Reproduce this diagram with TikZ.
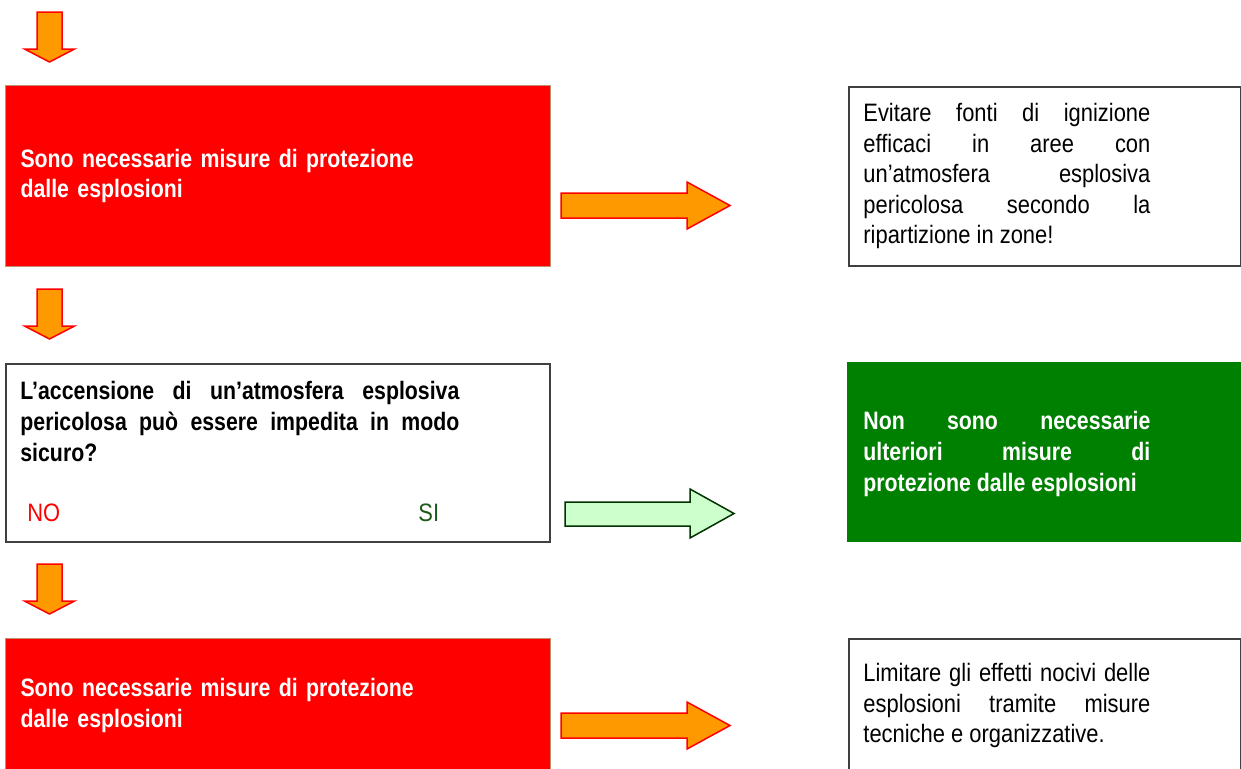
\documentclass[tikz,border=0pt]{standalone}
\usepackage{fontspec}
\setmainfont{Liberation Sans}[FakeStretch=0.87, BoldFeatures={FakeStretch=0.845}]
\usepackage{tikz}
\usetikzlibrary{positioning}
\definecolor{arrfill}{HTML}{FF9900}
\definecolor{okfill}{HTML}{CCFFCC}
\definecolor{okline}{HTML}{003300}
\definecolor{boxgreen}{HTML}{008000}
\definecolor{siline}{HTML}{1E5A1E}
\definecolor{redrim}{HTML}{C09070}
\hyphenpenalty=10000

\begin{document}
\begin{tikzpicture}[x=0.5pt,y=-0.5pt,
  redbox/.style={draw=redrim, line width=0.5pt, fill=red, text=white, anchor=north west,
    text width=257.5pt, inner xsep=7.5pt, align=left, font=\bfseries\fontsize{12.6}{15.25}\selectfont},
  plainbox/.style={draw=black!75, line width=0.75pt, anchor=north west},
  greenbox/.style={fill=boxgreen, anchor=north west},
  sidetext/.style={text width=143.5pt, align=justify, inner sep=0pt, anchor=west,
    font=\fontsize{12.6}{15.25}\selectfont},
  answer/.style={anchor=base west, inner sep=0pt, font=\fontsize{12.6}{15.25}\selectfont},
  fatarr/.style={draw=red, fill=arrfill, line width=0.75pt},
  okarr/.style={draw=okline, fill=okfill, line width=0.75pt}]
\useasboundingbox (0,0) rectangle (1241,768);
\clip (0,0) rectangle (1241,768);

% left column
\node[redbox, minimum height=90.5pt] (need1) at (5,85) {Sono necessarie misure di protezione\\dalle esplosioni};
\node[plainbox, minimum width=272pt, minimum height=89pt] (ask) at (5,363) {};
\node[below right=9pt and 7.5pt of ask.north west, text width=219.5pt, align=justify, inner sep=0pt,
  font=\bfseries\fontsize{12.6}{15.5}\selectfont] (asktxt)
  {L’accensione di un’atmosfera esplosiva\linebreak pericolosa può essere impedita in modo\linebreak sicuro?};
\node[answer, text=red] (no) at (27,521) {NO};
\node[answer, text=siline] (si) at (418,521) {SI};
\node[redbox, minimum height=67pt] (need2) at (5,638) {Sono necessarie misure di protezione\\dalle esplosioni};

% right column
\node[plainbox, minimum width=196pt, minimum height=89.5pt] (avoid) at (848,86) {};
\node[sidetext, right=7.5pt of avoid.west] (avoidtxt)
  {Evitare fonti di ignizione\linebreak efficaci in aree con\linebreak un’atmosfera esplosiva\linebreak pericolosa secondo la\linebreak ripartizione in zone!};
\node[greenbox, minimum width=198pt, minimum height=90pt] (safe) at (847,362) {};
\node[sidetext, text=white, font=\bfseries\fontsize{12.6}{15.5}\selectfont, right=8pt of safe.west, yshift=-1pt] (safetxt)
  {Non sono necessarie\linebreak ulteriori misure di\linebreak protezione dalle esplosioni};
\node[plainbox, minimum width=196pt, minimum height=67pt] (limit) at (848,638) {};
\node[sidetext, right=7.5pt of limit.west] (limittxt)
  {Limitare gli effetti nocivi delle\linebreak esplosioni tramite misure\linebreak tecniche e organizzative.};

% block arrows
\draw[fatarr] (37,12) -- ++(25,0) -- ++(0,37) -- ++(12.5,0) -- ++(-25,13) -- ++(-25,-13) -- ++(12.5,0) -- cycle;
\draw[fatarr] (37,289) -- ++(25,0) -- ++(0,37) -- ++(12.5,0) -- ++(-25,13) -- ++(-25,-13) -- ++(12.5,0) -- cycle;
\draw[fatarr] (37,564) -- ++(25,0) -- ++(0,37) -- ++(12.5,0) -- ++(-25,13) -- ++(-25,-13) -- ++(12.5,0) -- cycle;
\draw[fatarr] (561,193) -- ++(126,0) -- ++(0,-11) -- ++(43,23.5) -- ++(-43,23.5) -- ++(0,-11) -- ++(-126,0) -- cycle;
\draw[okarr] (565,502) -- ++(125,0) -- ++(0,-13) -- ++(44,24.5) -- ++(-44,24.5) -- ++(0,-12) -- ++(-125,0) -- cycle;
\draw[fatarr] (561,713) -- ++(126,0) -- ++(0,-11) -- ++(43,23.5) -- ++(-43,23.5) -- ++(0,-11) -- ++(-126,0) -- cycle;
\end{tikzpicture}
\end{document}
